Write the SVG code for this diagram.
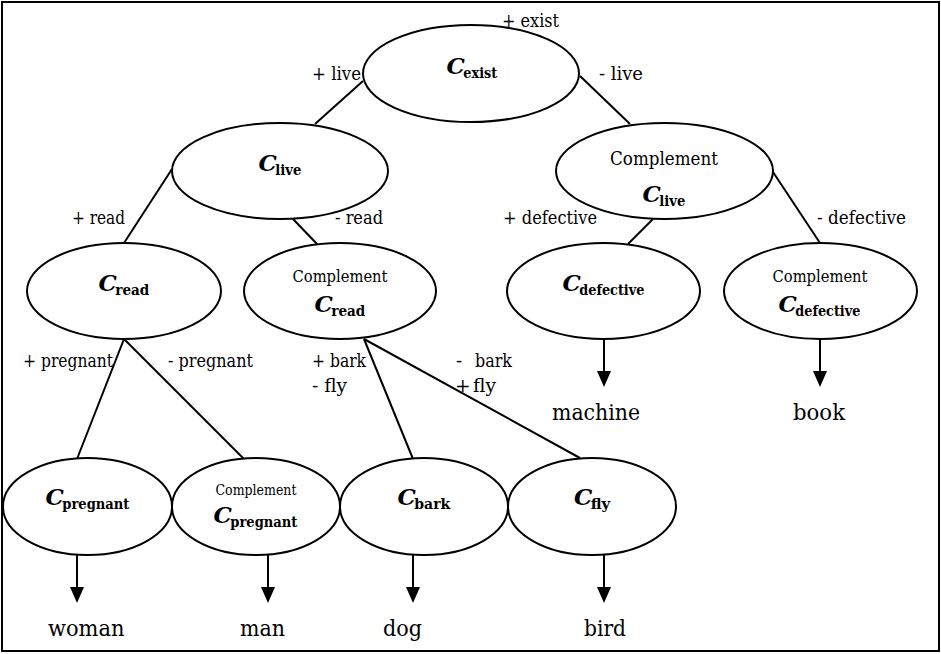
<svg xmlns="http://www.w3.org/2000/svg" width="941" height="654" viewBox="0 0 941 654">
<defs>
<marker id="ah" viewBox="0 0 16 14" markerWidth="16" markerHeight="14" refX="10" refY="7" orient="auto" markerUnits="userSpaceOnUse">
<path d="M0,0 L16,7 L0,14 z" fill="#000"/>
</marker>
<style>
text{font-family:"DejaVu Serif","Liberation Serif",serif;fill:#000}
.n{fill:#fff;stroke:#000;stroke-width:2}
.e line{stroke:#000;stroke-width:2}
.a line{stroke:#000;stroke-width:2;marker-end:url(#ah)}
.lbl{font-size:18.5px}
.leaf{font-size:23px}
.cm{font-size:18.5px;text-anchor:middle}
.cm18{font-size:16px;text-anchor:middle}
.cm16{font-size:14px;text-anchor:middle}
.C{font-size:23px;font-weight:bold;font-style:italic}
.s{font-size:15.5px;font-weight:bold}
</style>
</defs>
<rect x="2" y="2" width="937" height="649" fill="#fff" stroke="#000" stroke-width="2"/>
<g id="connectors">
<g class="e">
<line x1="363" y1="81" x2="315" y2="124"/>
<line x1="580" y1="76" x2="630" y2="124"/>
<line x1="172" y1="169" x2="124" y2="243"/>
<line x1="293" y1="219" x2="317" y2="244"/>
<line x1="653" y1="219" x2="628" y2="244"/>
<line x1="773" y1="172" x2="820" y2="243"/>
<line x1="124" y1="339" x2="77" y2="459"/>
<line x1="124" y1="339" x2="244" y2="459"/>
<line x1="364" y1="339" x2="413" y2="459"/>
<line x1="364" y1="339" x2="580" y2="458"/>
</g>
<g class="a">
<line x1="77" y1="555" x2="77" y2="597"/>
<line x1="268" y1="555" x2="268" y2="597"/>
<line x1="413" y1="555" x2="413" y2="597"/>
<line x1="604" y1="555" x2="604" y2="597"/>
<line x1="604" y1="339" x2="604" y2="381"/>
<line x1="820" y1="339" x2="820" y2="381"/>
</g>
<g class="labels">
<text class="lbl" x="502" y="27" textLength="57" lengthAdjust="spacingAndGlyphs">+ exist</text>
<text class="lbl" x="312" y="80" textLength="49" lengthAdjust="spacingAndGlyphs">+ live</text>
<text class="lbl" x="599" y="80" textLength="44" lengthAdjust="spacingAndGlyphs">- live</text>
<text class="lbl" x="72" y="224" textLength="53" lengthAdjust="spacingAndGlyphs">+ read</text>
<text class="lbl" x="335" y="224" textLength="48" lengthAdjust="spacingAndGlyphs">- read</text>
<text class="lbl" x="503" y="224" textLength="94" lengthAdjust="spacingAndGlyphs">+ defective</text>
<text class="lbl" x="817" y="224" textLength="89" lengthAdjust="spacingAndGlyphs">- defective</text>
<text class="lbl" x="23" y="367" textLength="90" lengthAdjust="spacingAndGlyphs">+ pregnant</text>
<text class="lbl" x="168" y="367" textLength="85" lengthAdjust="spacingAndGlyphs">- pregnant</text>
<text class="lbl" x="312" y="367" textLength="54" lengthAdjust="spacingAndGlyphs">+ bark</text>
<text class="lbl" x="312" y="392" textLength="35" lengthAdjust="spacingAndGlyphs">- fly</text>
<text class="lbl" x="456" y="367">-</text>
<text class="lbl" x="475" y="367" textLength="37" lengthAdjust="spacingAndGlyphs">bark</text>
<text class="lbl" x="455" y="392">+</text>
<text class="lbl" x="473" y="392" textLength="23" lengthAdjust="spacingAndGlyphs">fly</text>
</g>
</g>
<g id="n-exist"><ellipse class="n" cx="471" cy="73.5" rx="108" ry="48.5"/>
<text class="C" x="446.6" y="74">C</text><text class="s" x="463.3" y="78" textLength="34" lengthAdjust="spacingAndGlyphs">exist</text></g>
<g id="n-live"><ellipse class="n" cx="280" cy="171" rx="108" ry="48"/>
<text class="C" x="258.6" y="171">C</text><text class="s" x="275.3" y="175" textLength="26" lengthAdjust="spacingAndGlyphs">live</text></g>
<g id="n-notlive"><ellipse class="n" cx="664.5" cy="171" rx="108.5" ry="48"/>
<text class="cm" x="664" y="165" textLength="108" lengthAdjust="spacingAndGlyphs">Complement</text>
<text class="C" x="642.6" y="202">C</text><text class="s" x="659.3" y="206" textLength="26" lengthAdjust="spacingAndGlyphs">live</text></g>
<g id="n-read"><ellipse class="n" cx="124" cy="291" rx="97" ry="48"/>
<text class="C" x="98.6" y="291">C</text><text class="s" x="115.3" y="295" textLength="34" lengthAdjust="spacingAndGlyphs">read</text></g>
<g id="n-notread"><ellipse class="n" cx="340" cy="291" rx="96" ry="48"/>
<text class="cm18" x="340" y="282" textLength="95" lengthAdjust="spacingAndGlyphs">Complement</text>
<text class="C" x="314.6" y="312">C</text><text class="s" x="331.3" y="316" textLength="34" lengthAdjust="spacingAndGlyphs">read</text></g>
<g id="n-defective"><ellipse class="n" cx="603.5" cy="291" rx="96.5" ry="48"/>
<text class="C" x="562.6" y="291">C</text><text class="s" x="579.3" y="295" textLength="65" lengthAdjust="spacingAndGlyphs">defective</text></g>
<g id="n-notdefective"><ellipse class="n" cx="820.5" cy="291" rx="96.5" ry="48"/>
<text class="cm18" x="820" y="282" textLength="95" lengthAdjust="spacingAndGlyphs">Complement</text>
<text class="C" x="778.6" y="312">C</text><text class="s" x="795.3" y="316" textLength="65" lengthAdjust="spacingAndGlyphs">defective</text></g>
<g id="n-pregnant"><ellipse class="n" cx="87.5" cy="506.5" rx="84.5" ry="48.5"/>
<text class="C" x="45.6" y="505">C</text><text class="s" x="62.3" y="509" textLength="67" lengthAdjust="spacingAndGlyphs">pregnant</text></g>
<g id="n-notpregnant"><ellipse class="n" cx="256" cy="506.5" rx="84" ry="48.5"/>
<text class="cm16" x="256" y="495" textLength="81" lengthAdjust="spacingAndGlyphs">Complement</text>
<text class="C" x="213.6" y="523">C</text><text class="s" x="230.3" y="527" textLength="67" lengthAdjust="spacingAndGlyphs">pregnant</text></g>
<g id="n-bark"><ellipse class="n" cx="424" cy="506.5" rx="84" ry="48.5"/>
<text class="C" x="397.6" y="505">C</text><text class="s" x="414.3" y="509" textLength="36" lengthAdjust="spacingAndGlyphs">bark</text></g>
<g id="n-fly"><ellipse class="n" cx="592" cy="506.5" rx="84" ry="48.5"/>
<text class="C" x="574" y="505">C</text><text class="s" x="590.7" y="509" textLength="19.5" lengthAdjust="spacingAndGlyphs">fly</text></g>
<g id="leaf-machine"><text class="leaf" x="552" y="420" textLength="88" lengthAdjust="spacingAndGlyphs">machine</text></g>
<g id="leaf-book"><text class="leaf" x="793" y="420" textLength="52" lengthAdjust="spacingAndGlyphs">book</text></g>
<g id="leaf-woman"><text class="leaf" x="48" y="636" textLength="76.5" lengthAdjust="spacingAndGlyphs">woman</text></g>
<g id="leaf-man"><text class="leaf" x="240" y="636" textLength="45" lengthAdjust="spacingAndGlyphs">man</text></g>
<g id="leaf-dog"><text class="leaf" x="383" y="636" textLength="39" lengthAdjust="spacingAndGlyphs">dog</text></g>
<g id="leaf-bird"><text class="leaf" x="584" y="636" textLength="42" lengthAdjust="spacingAndGlyphs">bird</text></g>
</svg>
